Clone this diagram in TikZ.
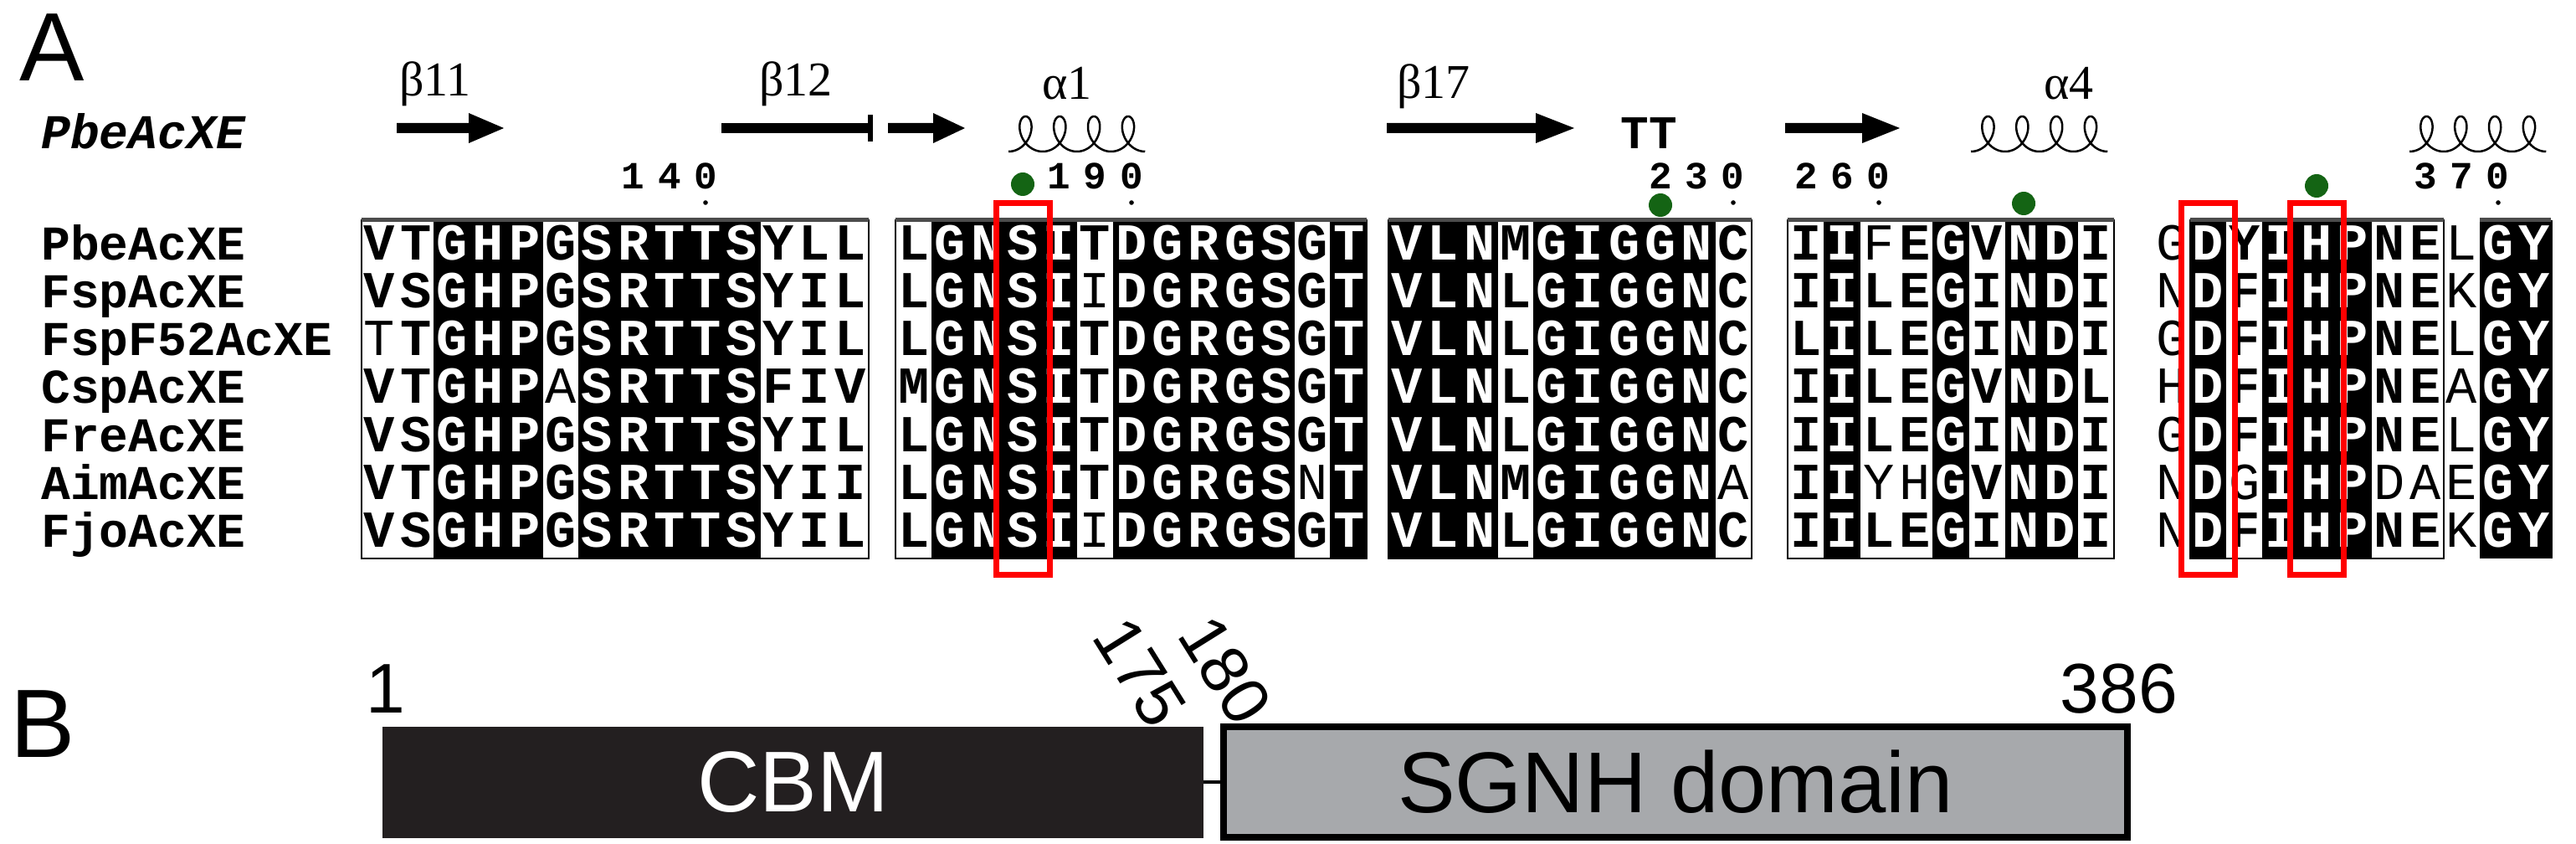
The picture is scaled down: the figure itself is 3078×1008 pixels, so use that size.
\documentclass[tikz,border=0pt]{standalone}
\usepackage{fontspec}
\usepackage{xstring}
\newfontfamily\mono{Liberation Mono}
\newfontfamily\serifg{Liberation Serif}
\newfontfamily\sansf{Liberation Sans}
\definecolor{gdot}{RGB}{20,100,20}
\definecolor{cbm}{HTML}{231F20}
\definecolor{sgnh}{HTML}{A7A9AC}
\def\cw{43.3}
\def\kk{k}
\def\ytop{263}\def\ybot{667}
\def\mkchar#1\relax{\ifnum`#1>96\relax\def\wt{\mdseries}\uppercase{\def\L{#1}}\else\def\wt{\bfseries}\def\L{#1}\fi}
\newcommand\seqrow[4]{%
  \StrLen{#3}[\seqlen]%
  \foreach \i in {1,...,\seqlen}{%
    \StrChar{#3}{\i}[\ch]%
    \StrChar{#4}{\i}[\ty]%
    \expandafter\mkchar\ch\relax
    \ifx\ty\kk\def\lc{white}\else\def\lc{black}\fi
    \node[res,text=\lc] at ({#1+(\i-1)*\cw},{#2+18}) {\wt\L};
  }}
\newcommand\blkcols[2]{%
  \StrLen{#2}[\plen]%
  \foreach \i in {1,...,\plen}{%
    \StrChar{#2}{\i}[\ty]%
    \ifx\ty\kk
      \fill[black] ({#1+(\i-1.5)*\cw-0.5},\ytop) rectangle ({#1+(\i-0.5)*\cw+0.5},\ybot);
    \fi
  }}
\begin{document}
\begin{tikzpicture}[x=1pt,y=-1pt,
  res/.style={font=\mono\fontsize{62}{62}\selectfont,inner sep=0,anchor=base},
  namef/.style={font=\mono\bfseries\fontsize{58}{58}\selectfont,inner sep=0,anchor=base west},
  numf/.style={font=\mono\bfseries\fontsize{46}{46}\selectfont,inner sep=0},
  ssl/.style={font=\serifg\fontsize{58}{58}\selectfont,inner sep=0},
  frm/.style={draw=black,line width=2},
  redbox/.style={draw=red,line width=7},
  strand/.style={fill=black},
  helix/.style={draw=black,line width=2.5}]
\useasboundingbox (0,0) rectangle (3078,1008);
\fill[white] (0,0) rectangle (3078,1008);
% panel labels
\node[font=\sansf\fontsize{116}{116}\selectfont,inner sep=0] (pA) at (62,57) {A};
\node[font=\sansf\fontsize{116}{116}\selectfont,inner sep=0] (pB) at (51,865) {B};
% secondary structure
\node[namef,font=\mono\bfseries\itshape\fontsize{58}{58}\selectfont] (ref) at (49,178) {PbeAcXE};
\node[ssl] (b11) at (520,100) {β11};
\node[ssl] (b12) at (951,100) {β12};
\node[ssl] (a1) at (1275,100) {α1};
\node[ssl] (b17) at (1713,103) {β17};
\node[ssl] (a4) at (2472,100) {α4};
\fill[strand] (474,147) -- (560,147) -- (560,135) -- (602,153) -- (560,171) -- (560,159) -- (474,159) -- cycle;
\fill[strand] (862,147) rectangle (1039,159);
\fill[strand] (1037,137) rectangle (1043,169);
\fill[strand] (1061,147) -- (1115,147) -- (1115,135) -- (1153,153) -- (1115,171) -- (1115,159) -- (1061,159) -- cycle;
\fill[strand] (1657,147) -- (1835,147) -- (1835,135) -- (1881,153) -- (1835,171) -- (1835,159) -- (1657,159) -- cycle;
\fill[strand] (2133,147) -- (2225,147) -- (2225,135) -- (2270,153) -- (2225,171) -- (2225,159) -- (2133,159) -- cycle;
\node[numf,anchor=base,font=\mono\bfseries\fontsize{56}{56}\selectfont] (tt) at (1970,178) {TT};
\foreach \hx in {1205,2355,2879}{
  \draw[helix] plot[domain=3.14159:28.27,samples=240,smooth] ({\hx+6.5*(\x-3.14159)-16*sin(\x r)},{160-21*cos(\x r)});
}
% numbering
\foreach \d/\c in {1/8,4/9,0/10}{\node[numf,anchor=base] at ({453.5+(\c-1)*\cw},226) {\d};}
\foreach \d/\c in {1/5,9/6,0/7}{\node[numf,anchor=base] at ({1092+(\c-1)*\cw},226) {\d};}
\foreach \d/\c in {2/8,3/9,0/10}{\node[numf,anchor=base] at ({1681+(\c-1)*\cw},226) {\d};}
\foreach \d/\c in {2/1,6/2,0/3}{\node[numf,anchor=base] at ({2158+(\c-1)*\cw},226) {\d};}
\foreach \d/\c in {3/8,7/9,0/10}{\node[numf,anchor=base] at ({2595+(\c-1)*\cw},226) {\d};}
\foreach \px in {843,1352,2071,2245,2985}{\fill (\px,242) circle (2.8);}
% black columns
\blkcols{453.5}{wwkkkwkkkkkwww}
\blkcols{1092}{wkkkkwkkkkkwk}
\blkcols{1681}{kkkwkkkkkw}
\blkcols{2158}{wkwwkwkkw}
\blkcols{2595}{nkwkkkwwnkk}
% frames
\draw[frm] (432,\ytop) rectangle (1038,\ybot);
\draw[frm] (1070,\ytop) rectangle (1633,\ybot);
\draw[frm] (1659,\ytop) rectangle (2093,\ybot);
\draw[frm] (2136,\ytop) rectangle (2526,\ybot);
\draw[frm] (2617,\ytop) rectangle (2920,\ybot);
\foreach \a/\b in {432/1038,1070/1633,1659/2093,2136/2526,2617/2920,2963/3048}{
  \draw[line width=5,black!70] (\a,\ytop) -- (\b,\ytop);}
% names and sequences
\foreach [count=\r] \nm/\sa/\sb/\sc/\sd/\se in {
 PbeAcXE/VTGHPGSRTTSYLL/LGNSITDGRGSGT/VLNMGIGGNC/IIfEGVNDI/gDYIHPNElGY,
 FspAcXE/VSGHPGSRTTSYIL/LGNSIiDGRGSGT/VLNLGIGGNC/IILEGINDI/nDFIHPNEkGY,
 FspF52AcXE/tTGHPGSRTTSYIL/LGNSITDGRGSGT/VLNLGIGGNC/LILEGINDI/gDFIHPNElGY,
 CspAcXE/VTGHPaSRTTSFIV/MGNSITDGRGSGT/VLNLGIGGNC/IILEGVNDL/hDFIHPNEaGY,
 FreAcXE/VSGHPGSRTTSYIL/LGNSITDGRGSGT/VLNLGIGGNC/IILEGINDI/gDFIHPNElGY,
 AimAcXE/VTGHPGSRTTSYII/LGNSITDGRGSnT/VLNMGIGGNa/IIyhGVNDI/nDgIHPdaeGY,
 FjoAcXE/VSGHPGSRTTSYIL/LGNSIiDGRGSGT/VLNLGIGGNC/IILEGINDI/nDFIHPNEkGY}{
  \pgfmathsetmacro\yy{292+57.3*(\r-1)}
  \node[namef] (n\r) at (49,{\yy+18}) {\nm};
  \seqrow{453.5}{\yy}{\sa}{wwkkkwkkkkkwww}
  \seqrow{1092}{\yy}{\sb}{wkkkkwkkkkkwk}
  \seqrow{1681}{\yy}{\sc}{kkkwkkkkkw}
  \seqrow{2158}{\yy}{\sd}{wkwwkwkkw}
  \seqrow{2595}{\yy}{\se}{nkwkkkwwnkk}
}
% red boxes and green dots
\draw[redbox] (1190,243) rectangle (1254,686);
\draw[redbox] (2606,243) rectangle (2670,686);
\draw[redbox] (2736,243) rectangle (2800,686);
\foreach \gx/\gy in {1222/220,1984/245,2418/243,2768/222}{\fill[gdot] (\gx,\gy) circle (14);}
% panel B
\node[draw=cbm,fill=cbm,minimum width=980,minimum height=132,inner sep=0,line width=1] (cbmb) at (947,934) {};
\node[draw=black,fill=sgnh,minimum width=1080,minimum height=132,inner sep=0,line width=8] (sgnhb) at (2002,934) {};
\draw[line width=4] (cbmb.east) -- (sgnhb.west);
\node[font=\sansf\fontsize{103}{103}\selectfont,text=white,inner sep=0] (tc) at (948,934) {CBM};
\node[font=\sansf\fontsize{103}{103}\selectfont,inner sep=0] (ts) at (2002,934) {SGNH domain};
\node[font=\sansf\fontsize{84}{84}\selectfont,inner sep=0] (t1) at (461,823) {1};
\node[font=\sansf\fontsize{84}{84}\selectfont,inner sep=0] (t386) at (2532,823) {386};
\node[font=\sansf\fontsize{80}{80}\selectfont,inner sep=0,rotate=-58] (t175) at (1362,803) {175};
\node[font=\sansf\fontsize{80}{80}\selectfont,inner sep=0,rotate=-58] (t180) at (1464,800) {180};
\end{tikzpicture}
\end{document}
